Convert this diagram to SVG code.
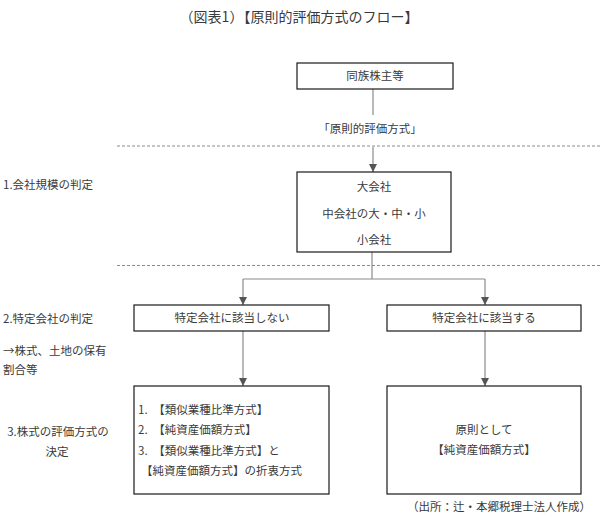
<svg xmlns="http://www.w3.org/2000/svg" width="600" height="523" viewBox="0 0 600 523">
<defs>
<style>
text{font-family:"Noto Sans CJK JP","Noto Sans",sans-serif;fill:#3a3a3a;font-size:11.5px}
.c{text-anchor:middle}
.box{fill:#fff;stroke:#1a1a1a;stroke-width:1.2}
.ln{fill:none;stroke:#8a8a8a;stroke-width:1.2}
.dash{fill:none;stroke:#8a8a8a;stroke-width:1;stroke-dasharray:3 2}
</style>
<marker id="ah" viewBox="0 0 10 10" refX="10" refY="5" markerWidth="8" markerHeight="8" markerUnits="userSpaceOnUse" orient="auto">
<path d="M0,0L10,5L0,10z" fill="#555"/>
</marker>
</defs>
<rect width="600" height="523" fill="#fff"/>
<text class="c" x="299" y="22" style="font-size:14px">（図表1）【原則的評価方式のフロー】</text>

<g id="labels">
<text x="3" y="189">1.会社規模の判定</text>
<text x="3" y="323">2.特定会社の判定</text>
<text x="3" y="355">→株式、土地の保有</text>
<text x="3" y="374">割合等</text>
<text class="c" x="58" y="436">3.株式の評価方式の</text>
<text class="c" x="57" y="456">決定</text>
<text class="c" x="370" y="133">「原則的評価方式」</text>
<text x="591" y="511" style="text-anchor:end">（出所：辻・本郷税理士法人作成）</text>
</g>

<g id="separators">
<line class="dash" x1="117" y1="146" x2="600" y2="146"/>
<line class="dash" x1="117" y1="265.5" x2="600" y2="265.5"/>
</g>

<g id="connectors">
<line class="ln" x1="373" y1="89" x2="373" y2="115"/>
<line class="ln" x1="373" y1="147" x2="373" y2="172" marker-end="url(#ah)"/>
<line class="ln" x1="372" y1="252" x2="372" y2="279"/>
<line class="ln" x1="243" y1="279" x2="485" y2="279"/>
<line class="ln" x1="243" y1="279" x2="243" y2="305" marker-end="url(#ah)"/>
<line class="ln" x1="485" y1="279" x2="485" y2="305" marker-end="url(#ah)"/>
<line class="ln" x1="243" y1="331" x2="243" y2="386" marker-end="url(#ah)"/>
<line class="ln" x1="485" y1="331" x2="485" y2="386" marker-end="url(#ah)"/>
</g>

<g id="n1">
<rect class="box" x="297" y="63" width="156" height="26"/>
<text class="c" x="375" y="80">同族株主等</text>
</g>
<g id="n2">
<rect class="box" x="297" y="172" width="154" height="80"/>
<text class="c" x="374" y="191">大会社</text>
<text class="c" x="374" y="218">中会社の大・中・小</text>
<text class="c" x="374" y="244">小会社</text>
</g>
<g id="n3">
<rect class="box" x="134" y="305" width="195" height="26"/>
<text class="c" x="232" y="322">特定会社に該当しない</text>
</g>
<g id="n4">
<rect class="box" x="387" y="305" width="194" height="26"/>
<text class="c" x="484" y="322">特定会社に該当する</text>
</g>
<g id="n5">
<rect class="box" x="134" y="386" width="195" height="108"/>
<text x="138" y="414">1.　【類似業種比準方式】</text>
<text x="138" y="434">2.　【純資産価額方式】</text>
<text x="138" y="455">3.　【類似業種比準方式】と</text>
<text x="141" y="475">【純資産価額方式】の折衷方式</text>
</g>
<g id="n6">
<rect class="box" x="387" y="386" width="194" height="108"/>
<text class="c" x="484" y="434">原則として</text>
<text class="c" x="484" y="454">【純資産価額方式】</text>
</g>
</svg>
